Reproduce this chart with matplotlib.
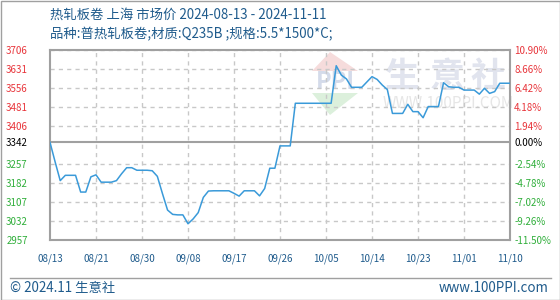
import matplotlib
matplotlib.use("Agg")
import matplotlib.pyplot as plt
from matplotlib.patches import Polygon, Rectangle
from matplotlib.lines import Line2D

plt.rcParams['font.family'] = ['Noto Sans CJK SC', 'DejaVu Sans']

# daily price, 2024-08-13 .. 2024-11-11 (day index 0..90)
prices = [3342, 3265, 3191, 3212, 3212, 3212, 3146, 3146, 3206, 3214,
          3185, 3185, 3185, 3191, 3218, 3242, 3242, 3232, 3232, 3232,
          3230, 3208, 3140, 3075, 3058, 3056, 3056, 3021, 3040, 3065,
          3125, 3150, 3151, 3151, 3151, 3151, 3141, 3130, 3151, 3151,
          3151, 3131, 3160, 3240, 3240, 3328, 3328, 3328, 3496, 3496,
          3496, 3496, 3496, 3496, 3496, 3496, 3644, 3607, 3592, 3559,
          3559, 3559, 3580, 3601, 3590, 3568, 3550, 3456, 3456, 3456,
          3492, 3463, 3463, 3439, 3483, 3483, 3483, 3577, 3561, 3559,
          3559, 3548, 3548, 3548, 3532, 3555, 3535, 3542, 3575, 3575,
          3575]
base_price = 3342
y_ticks = [3706, 3631, 3556, 3481, 3406, 3342, 3257, 3182, 3107, 3032, 2957]
pct_labels = ["10.90%", "8.66%", "6.42%", "4.18%", "1.94%", "0.00%",
              "-2.54%", "-4.78%", "-7.02%", "-9.26%", "-11.50%"]
date_labels = ["08/13", "08/21", "08/30", "09/08", "09/17", "09/26",
               "10/05", "10/14", "10/23", "11/01", "11/10"]
title = "热轧板卷 上海 市场价 2024-08-13 - 2024-11-11"
subtitle = "品种:普热轧板卷;材质:Q235B ;规格:5.5*1500*C;"

blue_txt = "#1f5b8c"
red = "#e8343a"
green = "#2fae3a"

fig = plt.figure(figsize=(5.6, 3.0), dpi=100)

# background layer in pixel coordinates
bg = fig.add_axes([0, 0, 1, 1], zorder=0)
bg.set_xlim(0, 560)
bg.set_ylim(300, 0)
bg.axis('off')
bg.add_patch(Rectangle((0.5, 0.5), 559, 299, fill=False, ec="#a0a0a0", lw=1))
bg.add_line(Line2D([10, 551], [278, 278], color="#a0a0a0", lw=1))
bg.text(50, 15, title, color=blue_txt, fontsize=9.6, va='center', ha='left')
bg.text(50, 34, subtitle, color=blue_txt, fontsize=9.6, va='center', ha='left')
bg.text(10, 288, "© 2024.11 生意社", color=blue_txt, fontsize=9.6, va='center', ha='left')
bg.text(549, 288, "www.100PPI.com", color=blue_txt, fontsize=9.6, va='center', ha='right')

# watermark
bg.add_patch(Polygon([[330, 52], [312, 71], [358, 71]], closed=True, fc="#f6dcdc", ec='none'))
bg.add_patch(Polygon([[312, 93], [358, 93], [330, 115]], closed=True, fc="#dcf0dc", ec='none'))
bg.text(335, 82, "PPI", color="#d4dbea", fontsize=17, fontweight='bold', ha='center', va='center')
for cx, ch in zip([402, 447, 488], "生意社"):
    bg.text(cx, 76, ch, color="#e1e4ee", fontsize=25, fontweight='bold', ha='center', va='center')
bg.text(448, 104, "WWW.100PPI.COM", color="#e6e6e6", fontsize=11, ha='center', va='center')

# main chart
ax = fig.add_axes([50 / 560, 60 / 300, 460 / 560, 190 / 300], zorder=1)
ax.patch.set_visible(False)
ax.plot(range(len(prices)), prices, color="#3a9ad9", lw=1.1, zorder=3)
ax.set_xlim(0, len(prices) - 1)
ax.set_ylim(y_ticks[-1], y_ticks[0])

x_ticks = [i * (len(prices) - 1) / 10 for i in range(11)]
ax.set_xticks(x_ticks)
ax.set_xticklabels(date_labels)
ax.set_yticks(y_ticks)
ax.set_yticklabels([str(v) for v in y_ticks])
ax.tick_params(axis='both', length=0, labelsize=7)
ax.tick_params(axis='x', pad=10, labelcolor=blue_txt)
ax.tick_params(axis='y', pad=16)
for lab, v in zip(ax.get_yticklabels(), y_ticks):
    lab.set_color(red if v > base_price else (green if v < base_price else "black"))

for v in y_ticks:
    if v == base_price:
        ax.axhline(v, color="#a0a0a0", lw=1.5, zorder=2)
    else:
        ax.axhline(v, color="#c8c8c8", lw=1, ls=(0, (3, 3)), zorder=1)
for xv in x_ticks[1:-1]:
    ax.axvline(xv, color="#c8c8c8", lw=1, ls=(0, (3, 3)), zorder=1)

for s in ax.spines.values():
    s.set_color("#a0a0a0")
    s.set_linewidth(1.5)

ax2 = ax.twinx()
ax2.set_ylim(ax.get_ylim())
ax2.set_yticks(y_ticks)
ax2.set_yticklabels(pct_labels)
ax2.tick_params(axis='y', length=0, labelsize=7, pad=3)
for lab, v in zip(ax2.get_yticklabels(), y_ticks):
    lab.set_color(red if v > base_price else (green if v < base_price else "black"))
for s in ax2.spines.values():
    s.set_visible(False)

fig.savefig("out.png", dpi=100)
